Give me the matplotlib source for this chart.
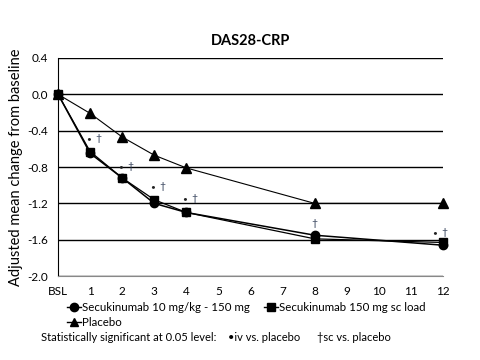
import numpy as np
import matplotlib.pyplot as plt
from matplotlib.lines import Line2D

plt.rcParams['font.family'] = ['Lato', 'DejaVu Sans']

# data
weeks = [0, 1, 2, 3, 4, 8, 12]
tick_labels = ['BSL'] + [str(i) for i in range(1, 13)]
iv_vals = [0.0, -0.65, -0.92, -1.20, -1.30, -1.55, -1.66]
sc_vals = [0.0, -0.63, -0.92, -1.16, -1.30, -1.59, -1.63]
pbo_vals = [0.0, -0.21, -0.47, -0.67, -0.81, -1.20, -1.20]
sig_iv_weeks = [1, 2, 3, 4, 12]
sig_sc_weeks = [1, 2, 3, 4, 8, 12]
sig_label_y = {1: -0.49, 2: -0.79, 3: -1.01, 4: -1.15, 8: -1.42, 12: -1.52}

fig = plt.figure(figsize=(4.8, 3.6), dpi=100)
ax = fig.add_axes([0.121, 0.233, 0.802, 0.606])

ax.plot(weeks, pbo_vals, color='black', lw=0.8, marker='^', ms=6.5, zorder=3, clip_on=False)
ax.plot(weeks, iv_vals, color='black', lw=1.1, marker='o', ms=6, zorder=4, clip_on=False)
ax.plot(weeks, sc_vals, color='black', lw=0.9, marker='s', ms=6, zorder=5, clip_on=False)

for w in sig_iv_weeks:
    dx = -1 if w != 12 else -6
    ax.annotate('•', (w, sig_label_y[w]), xytext=(dx, 0), textcoords='offset points',
                ha='center', va='center', fontsize=6, color='#222222')
for w in sig_sc_weeks:
    dx = 0 if w not in sig_iv_weeks else 6
    if w == 12:
        dx = 1
    ax.annotate('†', (w, sig_label_y[w]), xytext=(dx, 0), textcoords='offset points',
                ha='center', va='center', fontsize=7.5, color='#33405a')

ax.set_xlim(0, 12)
ax.set_ylim(-2.0, 0.4)
ax.set_xticks(range(13))
ax.set_xticklabels(tick_labels)
yt = np.arange(-2.0, 0.41, 0.4)
ax.set_yticks(yt)
ax.set_yticklabels(['%.1f' % v if abs(v) > 1e-9 else '0.0' for v in yt])
ax.tick_params(length=0, labelsize=8.5, pad=7)
ax.yaxis.grid(True, color='black', lw=1)
ax.set_axisbelow(True)
for s in ['top', 'right']:
    ax.spines[s].set_visible(False)
ax.spines['bottom'].set_color('#888888')
ax.spines['left'].set_color('black')

ax.set_title('DAS28-CRP', fontsize=10.5, fontweight='bold', pad=9)
ax.set_ylabel('Adjusted mean change from baseline', fontsize=10.5, labelpad=3)

handles = [
    Line2D([], [], color='black', lw=1, marker='o', ms=6),
    Line2D([], [], color='black', lw=1, marker='^', ms=6),
    Line2D([], [], color='black', lw=1, marker='s', ms=6),
]
labels = ['Secukinumab 10 mg/kg - 150 mg', 'Placebo', 'Secukinumab 150 mg sc load']
fig.legend(handles, labels, ncol=2, loc='upper left', bbox_to_anchor=(0.14, 0.162),
           frameon=False, fontsize=8.3, handlelength=1.2, handletextpad=0.1,
           columnspacing=1.2, labelspacing=0.35, borderaxespad=0, borderpad=0)

fig.text(0.085, 0.063, 'Statistically significant at 0.05 level:', fontsize=8, va='center')
fig.text(0.475, 0.063, '•iv vs. placebo', fontsize=8, va='center')
fig.text(0.66, 0.063, '†sc vs. placebo', fontsize=8, va='center')

fig.savefig('out.png', dpi=100)
